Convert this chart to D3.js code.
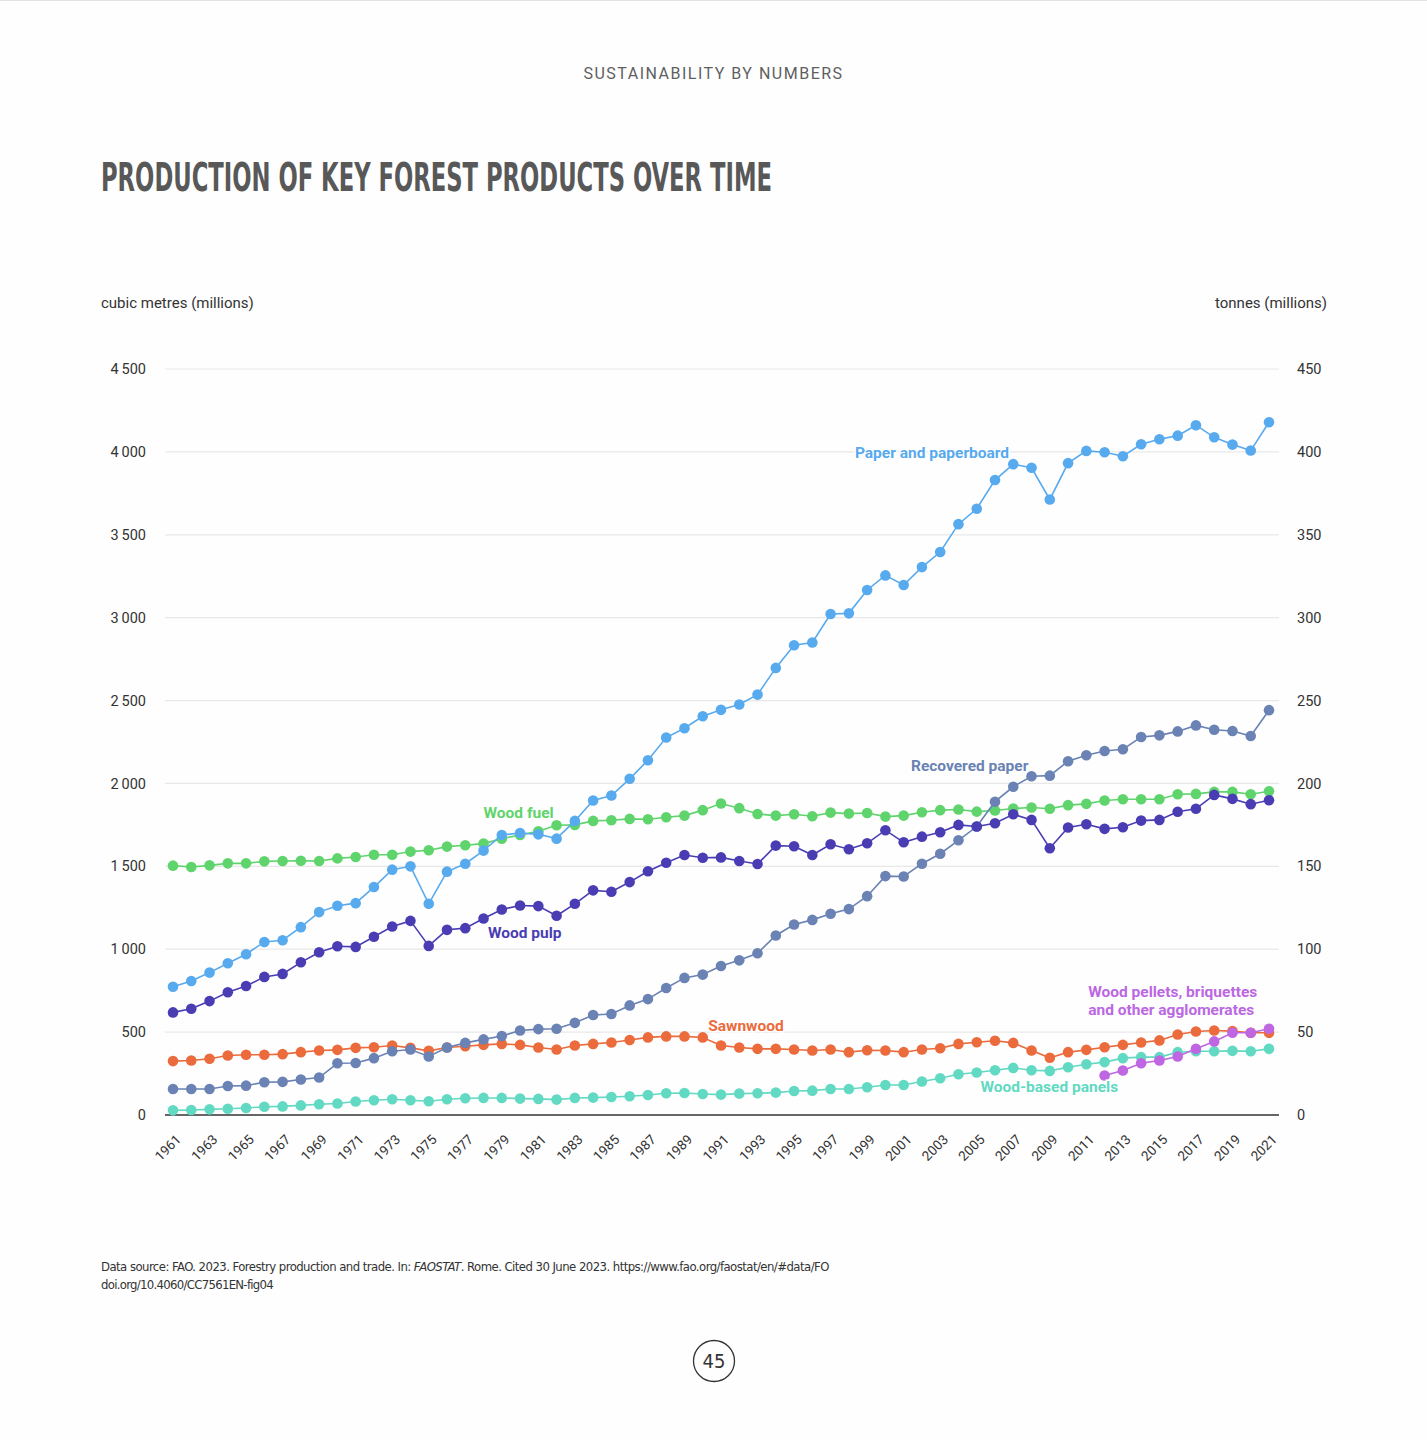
<!DOCTYPE html>
<html>
<head>
<meta charset="utf-8">
<script src="https://cdn.jsdelivr.net/npm/d3@7"></script>
<style>
  body { margin: 0; background: #fff; }
  svg { display: block; }
</style>
</head>
<body>
<svg id="chart" width="1427" height="1440"></svg>
<script>
// Production of key forest products, 1961-2021 (FAOSTAT)
const years = d3.range(1961, 2022);

// cubic metres (millions) - left axis
const woodFuel = [1504, 1496, 1506, 1518, 1518, 1530, 1532, 1534, 1532, 1548, 1556, 1570, 1570, 1589, 1597, 1619, 1627, 1637, 1667, 1689,
  1712, 1748, 1750, 1774, 1778, 1786, 1784, 1796, 1806, 1839, 1879, 1851, 1816, 1806, 1814, 1802, 1824, 1818, 1822, 1800,
  1806, 1826, 1839, 1843, 1830, 1837, 1849, 1855, 1847, 1869, 1877, 1897, 1905, 1905, 1905, 1935, 1937, 1949, 1949, 1935, 1953];
const sawnwood = [325, 329, 339, 359, 363, 363, 367, 379, 389, 393, 405, 409, 419, 405, 387, 407, 415, 423, 429, 423,
  407, 395, 419, 429, 437, 452, 468, 474, 474, 468, 419, 407, 399, 399, 395, 389, 395, 379, 391, 389,
  379, 395, 403, 429, 439, 448, 435, 389, 345, 379, 393, 409, 423, 437, 450, 486, 504, 510, 506, 496, 496];
const woodPanels = [28, 30, 34, 38, 42, 50, 52, 58, 65, 69, 81, 89, 95, 89, 83, 95, 101, 103, 103, 99,
  97, 93, 103, 105, 109, 113, 121, 131, 133, 127, 123, 129, 131, 135, 145, 147, 157, 157, 167, 181,
  181, 202, 222, 246, 256, 270, 284, 270, 266, 288, 306, 319, 343, 349, 349, 379, 385, 385, 387, 385, 399];

// tonnes (millions) - right axis
const paper = [77.4, 80.8, 85.9, 91.5, 97, 104.4, 105.4, 113.3, 122.4, 126.2, 127.8, 137.5, 148, 150, 127.4, 146.8, 151.6, 159.5, 168.9, 170.1,
  169.3, 166.7, 177.4, 189.7, 192.7, 202.8, 214, 227.7, 233.3, 240.5, 244.4, 247.6, 253.6, 269.7, 283.4, 285, 302.2, 302.6, 316.7, 325.5,
  319.7, 330.5, 339.6, 356.4, 365.7, 383, 392.6, 390.4, 371.3, 393.2, 400.6, 399.8, 397.4, 404.6, 407.6, 409.8, 416.1, 408.8, 404.4, 400.8, 417.9];
const woodPulp = [61.9, 64.1, 68.7, 74, 77.8, 83.3, 85.1, 92.1, 98.2, 101.8, 101.4, 107.5, 113.7, 117.1, 102, 111.7, 112.7, 118.5, 124, 126.4,
  126, 120.2, 127.4, 135.5, 134.7, 140.5, 147, 152.2, 156.8, 155.2, 155.4, 153.2, 151.4, 162.5, 162.1, 156.8, 163.3, 160.3, 163.9, 171.8,
  164.5, 167.9, 170.6, 175, 174, 176, 181.4, 178, 160.9, 173.4, 175.4, 172.6, 173.6, 177.6, 178, 182.9, 184.7, 193.1, 190.7, 187.5, 189.9];
const recoveredPaper = [15.7, 15.7, 15.7, 17.5, 17.7, 19.8, 20, 21.4, 22.6, 31.2, 31.4, 34.3, 38.5, 39.5, 35.3, 40.7, 43.5, 45.6, 47.6, 51,
  51.8, 52, 55.6, 60.3, 60.9, 66.1, 69.9, 76.6, 82.7, 84.7, 89.9, 93.3, 97.6, 108.3, 114.9, 117.7, 121.4, 124.2, 132, 144.1,
  143.9, 151.6, 157.6, 165.7, 174, 189, 198, 204.3, 204.7, 213.4, 217, 219.6, 220.6, 228, 229, 231.4, 235, 232.4, 231.6, 228.6, 244.2];
const pelletYears = d3.range(2012, 2022);
const pellets = [23.8, 26.8, 31.2, 32.9, 35.3, 39.9, 44.4, 49.6, 49.6, 52];

const leftTicks = [0, 500, 1000, 1500, 2000, 2500, 3000, 3500, 4000, 4500];
const rightTicks = [0, 50, 100, 150, 200, 250, 300, 350, 400, 450];
const yearTicks = years.filter(y => y % 2 === 1);

const svg = d3.select("#chart");
const width = 1427;

// plot area
const x = d3.scaleLinear().domain([1961, 2021]).range([173, 1269]);
const yLeft = d3.scaleLinear().domain([0, 4500]).range([1115, 369]);
const yRight = d3.scaleLinear().domain([0, 450]).range([1115, 369]);
const gridLeft = 165, gridRight = 1279;

const tickFont = "Roboto, 'Noto Sans', sans-serif";
const narrowFont = "'Liberation Sans Narrow', 'DejaVu Sans Condensed', 'Roboto', sans-serif";

// page furniture
svg.append("rect").attr("width", width).attr("height", 1440).attr("fill", "#fefefe");
svg.append("line").attr("x1", 0).attr("x2", width).attr("y1", 0.5).attr("y2", 0.5)
  .attr("stroke", "#e2e2e2");

svg.append("text")
  .attr("x", width / 2).attr("y", 79)
  .attr("text-anchor", "middle")
  .attr("font-family", tickFont).attr("font-size", 16)
  .attr("letter-spacing", 1.5)
  .attr("fill", "#5f5f5f")
  .text("SUSTAINABILITY BY NUMBERS");

svg.append("text")
  .attr("x", 101).attr("y", 191)
  .attr("font-family", narrowFont).attr("font-weight", "bold").attr("font-size", 39)
  .attr("textLength", 671).attr("lengthAdjust", "spacingAndGlyphs")
  .attr("fill", "#585858")
  .text("PRODUCTION OF KEY FOREST PRODUCTS OVER TIME");

svg.append("text")
  .attr("x", 101).attr("y", 308)
  .attr("font-family", tickFont).attr("font-size", 15)
  .attr("fill", "#333")
  .text("cubic metres (millions)");

svg.append("text")
  .attr("x", 1327).attr("y", 308)
  .attr("text-anchor", "end")
  .attr("font-family", tickFont).attr("font-size", 15)
  .attr("fill", "#333")
  .text("tonnes (millions)");

// gridlines
svg.append("g")
  .selectAll("line")
  .data(leftTicks.filter(d => d > 0))
  .join("line")
  .attr("x1", gridLeft).attr("x2", gridRight)
  .attr("y1", d => yLeft(d)).attr("y2", d => yLeft(d))
  .attr("stroke", "#e8e8e8").attr("stroke-width", 1.2);

// left axis
const fmt = d => d3.format(",")(d).replace(",", "\u2009");
const leftAxis = svg.append("g")
  .attr("transform", `translate(${gridLeft - 8},0)`)
  .call(d3.axisLeft(yLeft).tickValues(leftTicks).tickSize(0).tickPadding(0).tickFormat(fmt));
leftAxis.select(".domain").remove();
leftAxis.selectAll("text")
  .attr("font-family", tickFont).attr("font-size", 14.5).attr("fill", "#333").attr("dx", -11);

// right axis
const rightAxis = svg.append("g")
  .attr("transform", `translate(${gridRight + 18},0)`)
  .call(d3.axisRight(yRight).tickValues(rightTicks).tickSize(0).tickPadding(0));
rightAxis.select(".domain").remove();
rightAxis.selectAll("text")
  .attr("font-family", tickFont).attr("font-size", 14.5).attr("fill", "#333");

// x axis
const xAxis = svg.append("g")
  .attr("transform", `translate(0,${yLeft(0)})`)
  .call(d3.axisBottom(x).tickValues(yearTicks).tickSize(0).tickFormat(d3.format("d")));
xAxis.select(".domain").remove();
xAxis.selectAll("text")
  .attr("font-family", tickFont).attr("font-size", 13.5).attr("fill", "#333")
  .attr("text-anchor", "end")
  .attr("transform", "translate(5,22) rotate(-45)")
  .attr("dy", "0.35em").attr("y", 0);

svg.append("line")
  .attr("x1", gridLeft).attr("x2", gridRight)
  .attr("y1", yLeft(0)).attr("y2", yLeft(0))
  .attr("stroke", "#333").attr("stroke-width", 1.6);

// series
const series = [
  { name: "woodFuel", xs: years, values: woodFuel, y: yLeft, color: "#5fd46c" },
  { name: "sawnwood", xs: years, values: sawnwood, y: yLeft, color: "#eb6b3d" },
  { name: "panels", xs: years, values: woodPanels, y: yLeft, color: "#62d9c2" },
  { name: "pellets", xs: pelletYears, values: pellets, y: yRight, color: "#bf66e3" },
  { name: "recovered", xs: years, values: recoveredPaper, y: yRight, color: "#6a82b4" },
  { name: "pulp", xs: years, values: woodPulp, y: yRight, color: "#4a3db3" },
  { name: "paper", xs: years, values: paper, y: yRight, color: "#58aaee" }
];

series.forEach(s => {
  const pts = s.xs.map((yr, i) => ({ year: yr, value: s.values[i] }));
  const line = d3.line().x(d => x(d.year)).y(d => s.y(d.value));
  const g = svg.append("g").attr("class", "series-" + s.name);
  g.append("path")
    .datum(pts)
    .attr("d", line)
    .attr("fill", "none")
    .attr("stroke", s.color)
    .attr("stroke-width", 1.6);
  g.selectAll("circle")
    .data(pts)
    .join("circle")
    .attr("cx", d => x(d.year))
    .attr("cy", d => s.y(d.value))
    .attr("r", 5.3)
    .attr("fill", s.color);
});

// series labels (placed in data units)
const labels = [
  { lines: ["Paper and paperboard"], year: 1998.33, value: 3963, color: "#58aaee" },
  { lines: ["Wood fuel"], year: 1978.0, value: 1791, color: "#5fd46c" },
  { lines: ["Wood pulp"], year: 1978.24, value: 1068, color: "#4a3db3" },
  { lines: ["Recovered paper"], year: 2001.4, value: 2075, color: "#6a82b4" },
  { lines: ["Sawnwood"], year: 1990.3, value: 507, color: "#eb6b3d" },
  { lines: ["Wood pellets, briquettes", "and other agglomerates"], year: 2011.1, value: 712, color: "#bb68e2" },
  { lines: ["Wood-based panels"], year: 2005.2, value: 139, color: "#62d9c2" }
];

labels.forEach(l => {
  const t = svg.append("text")
    .attr("x", x(l.year)).attr("y", yLeft(l.value))
    .attr("font-family", tickFont).attr("font-weight", "bold").attr("font-size", 15.5)
    .attr("fill", l.color)
    .attr("stroke", "#fff").attr("stroke-width", 3).attr("paint-order", "stroke");
  l.lines.forEach((ln, i) => {
    t.append("tspan").attr("x", x(l.year)).attr("dy", i === 0 ? 0 : 18).text(ln);
  });
});

// source note
const src = svg.append("text")
  .attr("x", 101).attr("y", 1271)
  .attr("font-family", narrowFont).attr("font-size", 13)
  .attr("letter-spacing", -0.55)
  .attr("fill", "#333");
src.append("tspan").text("Data source: FAO. 2023. Forestry production and trade. In: ");
src.append("tspan").attr("font-style", "italic").text("FAOSTAT");
src.append("tspan").text(". Rome. Cited 30 June 2023. https://www.fao.org/faostat/en/#data/FO");

svg.append("text")
  .attr("x", 101).attr("y", 1289)
  .attr("font-family", narrowFont).attr("font-size", 13)
  .attr("letter-spacing", -0.7)
  .attr("fill", "#333")
  .text("doi.org/10.4060/CC7561EN-fig04");

// page number
svg.append("circle")
  .attr("cx", 714).attr("cy", 1361).attr("r", 20.5)
  .attr("fill", "none").attr("stroke", "#333").attr("stroke-width", 1.3);
svg.append("text")
  .attr("x", 714).attr("y", 1368)
  .attr("text-anchor", "middle")
  .attr("font-family", narrowFont).attr("font-size", 20)
  .attr("fill", "#333")
  .text("45");
</script>
</body>
</html>
